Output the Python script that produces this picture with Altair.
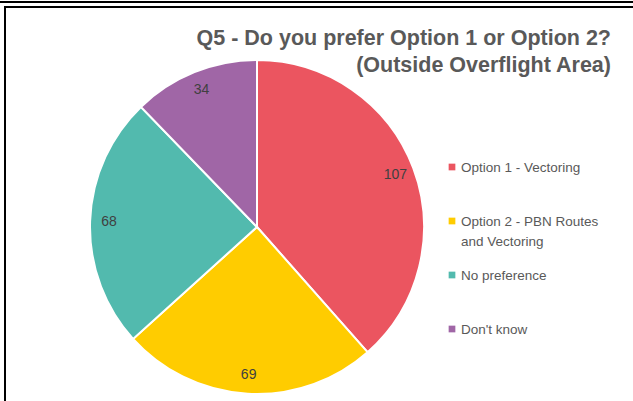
import altair as alt
import pandas as pd

categories = ["Option 1 - Vectoring", "Option 2 - PBN Routes\nand Vectoring", "No preference", "Don't know"]
values = [107, 69, 68, 34]
colors = ["#EB5560", "#FFCC00", "#52BAAE", "#A066A6"]
title_lines = ["Q5 - Do you prefer Option 1 or Option 2?", "(Outside Overflight Area)"]

df = pd.DataFrame({"category": categories, "value": values, "order": list(range(len(values)))})

FONT = "Liberation Sans"
color_scale = alt.Scale(domain=categories, range=colors)
CX, CY, R = 257, 227, 167

base = alt.Chart(df)

arcs = base.mark_arc(outerRadius=R, stroke="white", strokeWidth=2).encode(
    theta=alt.Theta("value:Q", stack=True),
    color=alt.Color("category:N", scale=color_scale, legend=None),
    order=alt.Order("order:Q"),
    x=alt.value(CX), y=alt.value(CY),
)

labels = base.mark_text(radius=148, font=FONT, fontSize=14, color="#404040").encode(
    theta=alt.Theta("value:Q", stack=True),
    order=alt.Order("order:Q"),
    text=alt.Text("value:Q"),
    x=alt.value(CX), y=alt.value(CY),
)

leg_scale = alt.Scale(range=[167, 329], padding=0)

leg_sym = base.mark_square(size=45, opacity=1).encode(
    y=alt.Y("order:O", scale=leg_scale, axis=None),
    x=alt.value(452),
    color=alt.Color("category:N", scale=color_scale, legend=None),
)

leg_txt = base.mark_text(align="left", baseline="alphabetic", dy=5, lineBreak="\n",
                         lineHeight=20, font=FONT, fontSize=13.5, color="#595959").encode(
    y=alt.Y("order:O", scale=leg_scale, axis=None),
    x=alt.value(461),
    text="category:N",
)

frame_top = alt.Chart(pd.DataFrame({"k": [1]})).mark_rule(color="black", strokeWidth=2).encode(
    x=alt.value(0), x2=alt.value(633), y=alt.value(2))
frame_top2 = alt.Chart(pd.DataFrame({"k": [2]})).mark_rule(color="black", strokeWidth=2).encode(
    x=alt.value(4), x2=alt.value(633), y=alt.value(7))
frame_left = alt.Chart(pd.DataFrame({"k": [3]})).mark_rule(color="black", strokeWidth=2).encode(
    x=alt.value(5), y=alt.value(7), y2=alt.value(401))

chart = alt.layer(arcs, labels, leg_sym, leg_txt, frame_top, frame_top2, frame_left).properties(
    width=633, height=401,
    autosize=alt.AutoSizeParams(type="none"),
    padding=0,
    title=alt.TitleParams(text=title_lines, anchor="end", orient="top", fontSize=21.5,
                          font=FONT, fontWeight="bold", color="#595959",
                          lineHeight=27, dx=-22, dy=80, frame="group"),
).configure_view(stroke=None).resolve_scale(y="independent")

chart.save("out.html", embed_options={"renderer": "svg", "actions": False})
